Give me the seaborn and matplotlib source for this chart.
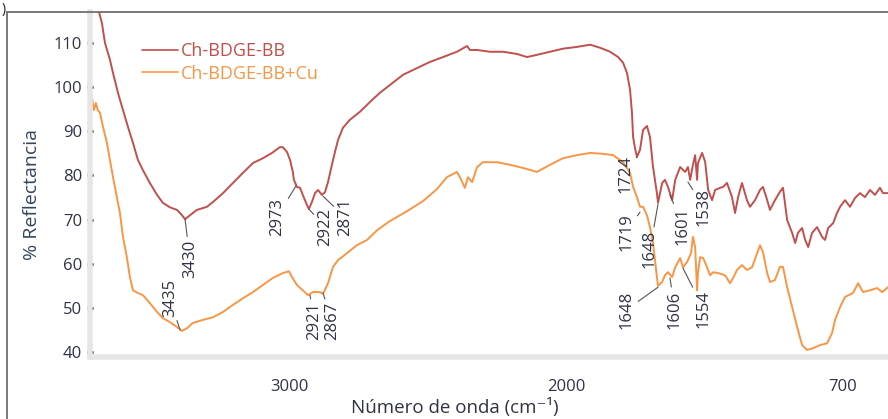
import pandas as pd
import matplotlib.pyplot as plt
import seaborn as sns
from matplotlib.lines import Line2D
from matplotlib.ticker import MultipleLocator

# spectrum Ch-BDGE-BB (wavenumber cm-1, % reflectance)
wn_bb = [3697, 3675, 3664, 3646, 3635, 3617, 3599, 3581, 3563, 3545, 3527, 3502, 3476, 3455,
         3430, 3404, 3386, 3375, 3357, 3332, 3296, 3274, 3238, 3202, 3166, 3130, 3094, 3061,
         3033, 3022, 3007, 2996, 2986, 2982, 2971, 2960, 2950, 2935, 2928, 2917, 2906, 2895,
         2881, 2870, 2859, 2845, 2834, 2823, 2805, 2780, 2744, 2708, 2672, 2635, 2588, 2538,
         2491, 2444, 2394, 2357, 2347, 2321, 2274, 2227, 2177, 2141, 2105, 2058, 2011, 1960,
         1913, 1877, 1841, 1812, 1794, 1780, 1769, 1762, 1758, 1751, 1744, 1733, 1722, 1708,
         1697, 1686, 1672, 1668, 1653, 1643, 1632, 1617, 1606, 1588, 1570, 1560, 1552, 1542,
         1534, 1527, 1524, 1509, 1498, 1487, 1473, 1462, 1444, 1433, 1419, 1401, 1390, 1379,
         1365, 1347, 1336, 1318, 1300, 1289, 1274, 1264, 1246, 1228, 1217, 1202, 1184, 1173,
         1163, 1148, 1137, 1126, 1112, 1094, 1076, 1065, 1054, 1036, 1022, 1011, 993, 975,
         957, 939, 921, 903, 885, 867, 856, 838, 812]
r_bb = [119.7, 114.5, 110.0, 106.2, 103.2, 98.7, 94.8, 91.0, 87.4, 83.5, 81.2, 78.3, 75.6, 73.8,
        72.8, 72.2, 71.0, 70.1, 71.0, 72.2, 72.9, 74.0, 76.0, 78.3, 80.6, 82.8, 83.9, 85.1,
        86.4, 86.4, 85.3, 83.5, 80.8, 79.0, 77.4, 77.2, 75.6, 73.3, 72.4, 74.0, 76.0, 76.7,
        75.6, 76.2, 78.5, 82.4, 85.3, 88.0, 90.8, 92.6, 94.4, 96.6, 98.7, 100.5, 102.8, 104.3,
        105.7, 106.8, 108.0, 109.3, 108.4, 108.4, 108.0, 108.0, 107.5, 106.8, 107.3, 108.0, 108.7, 109.1,
        109.6, 108.9, 108.0, 106.8, 105.5, 103.2, 99.4, 94.2, 88.7, 86.2, 84.2, 85.8, 90.3, 91.2,
        88.7, 81.9, 76.0, 73.8, 78.3, 79.0, 77.4, 74.4, 79.0, 81.9, 80.8, 81.9, 79.0, 82.4,
        84.6, 79.0, 82.8, 85.1, 83.1, 76.7, 74.4, 76.7, 77.2, 77.4, 78.3, 75.1, 71.5, 75.1,
        78.3, 74.4, 72.9, 74.4, 76.7, 77.4, 74.4, 72.2, 74.4, 76.3, 77.2, 69.9, 67.0, 64.7,
        67.0, 68.1, 65.4, 63.8, 67.0, 68.3, 66.1, 65.4, 68.1, 69.2, 71.5, 72.9, 74.4, 72.9,
        74.9, 76.0, 75.1, 76.7, 75.6, 77.2, 76.0, 76.0, 76.7]

# spectrum Ch-BDGE-BB+Cu
wn_cu = [3711, 3704, 3697, 3690, 3682, 3671, 3657, 3646, 3635, 3621, 3610, 3599, 3585, 3574,
         3563, 3545, 3527, 3502, 3476, 3455, 3430, 3404, 3386, 3368, 3347, 3310, 3274, 3238,
         3202, 3166, 3130, 3094, 3058, 3022, 3000, 2989, 2971, 2950, 2931, 2913, 2888, 2877,
         2859, 2841, 2823, 2791, 2755, 2718, 2682, 2635, 2574, 2516, 2466, 2430, 2394, 2383,
         2365, 2354, 2339, 2321, 2300, 2249, 2202, 2155, 2105, 2058, 2011, 1960, 1913, 1867,
         1830, 1794, 1769, 1758, 1744, 1733, 1722, 1708, 1697, 1686, 1679, 1672, 1668, 1653,
         1643, 1632, 1617, 1606, 1588, 1578, 1563, 1549, 1542, 1534, 1527, 1524, 1516, 1505,
         1491, 1480, 1469, 1451, 1426, 1408, 1397, 1383, 1365, 1347, 1329, 1310, 1300, 1289,
         1274, 1264, 1246, 1228, 1217, 1202, 1184, 1166, 1148, 1130, 1108, 1083, 1058, 1040,
         1029, 1011, 993, 964, 946, 928, 903, 877, 859, 838, 812]
r_cu = [97.5, 94.8, 96.4, 94.8, 94.2, 91.0, 87.4, 83.5, 79.6, 75.1, 71.5, 66.1, 61.5, 57.0,
        54.0, 53.4, 52.9, 51.1, 49.1, 47.7, 46.8, 45.7, 44.8, 45.4, 46.6, 47.3, 47.9, 49.1,
        50.7, 52.2, 53.6, 55.2, 56.8, 57.9, 58.3, 57.0, 55.2, 54.0, 52.9, 53.6, 53.6, 53.2,
        55.6, 59.3, 60.8, 62.4, 64.2, 65.4, 67.6, 69.7, 71.9, 74.2, 76.9, 79.6, 80.8, 79.6,
        77.2, 79.6, 78.5, 81.9, 83.0, 83.0, 82.4, 81.7, 80.8, 82.4, 83.9, 84.6, 85.1, 84.9,
        84.6, 83.0, 80.6, 77.4, 75.1, 72.9, 72.9, 71.0, 68.3, 64.7, 60.8, 57.0, 55.0, 55.9,
        57.4, 58.1, 57.0, 59.2, 61.3, 59.2, 60.4, 62.4, 66.1, 63.8, 54.0, 57.9, 61.5, 61.3,
        59.2, 57.4, 58.1, 57.9, 57.4, 55.6, 56.8, 58.6, 59.7, 58.6, 59.2, 62.4, 64.2, 62.6,
        57.9, 55.9, 56.3, 59.3, 59.3, 54.7, 50.2, 45.7, 41.6, 40.5, 40.9, 41.6, 42.0, 44.3,
        47.3, 50.2, 52.5, 53.4, 55.6, 53.6, 54.0, 54.5, 53.6, 54.7, 54.5]

# peak labels: text, point (wn, R), text anchor (wn, R), vertical alignment
peak_text = ['3430', '3435', '2973', '2922', '2871', '2921', '2867',
             '1724', '1719', '1648', '1601', '1538', '1648', '1606', '1554']
peak_xy = [(3375, 70.1), (3393, 45.0), (2975, 77.6), (2928, 72.4), (2877, 75.3), (2924, 52.9),
           (2877, 53.4), (1744, 84.2), (1733, 71.7), (1668, 73.5), (1625, 75.6), (1560, 78.5),
           (1668, 54.7), (1625, 56.8), (1578, 59.0)]
peak_txt = [(3357, 65.4), (3430, 47.9), (3043, 74.9), (2870, 72.6), (2798, 74.9), (2910, 51.3),
            (2845, 51.3), (1787, 84.6), (1783, 71.5), (1697, 67.6), (1578, 72.9), (1502, 77.1),
            (1780, 54.0), (1607, 54.0), (1502, 54.0)]
peak_va = ['top', 'bottom', 'top', 'top', 'top', 'top', 'top',
           'top', 'top', 'top', 'top', 'top', 'top', 'top', 'top']

xtick_pos = [3500, 3000, 2500, 2000, 1500, 1000]
xtick_lab = ['', '3000', '', '2000', '', '700']
ytick_pos = [40, 50, 60, 70, 80, 90, 100, 110]

c_red = '#c0504d'
c_orange = '#f79646'
txt_col = '#2e3244'

df = pd.concat([
    pd.DataFrame({'wn': wn_bb, 'R': r_bb, 'muestra': 'Ch-BDGE-BB'}),
    pd.DataFrame({'wn': wn_cu, 'R': r_cu, 'muestra': 'Ch-BDGE-BB+Cu'}),
])

sns.set_theme(style='white')
plt.rcParams['font.family'] = ['Open Sans', 'DejaVu Sans']

fig = plt.figure(figsize=(8.88, 4.19), dpi=100)
ax = fig.add_axes([90 / 888, 62 / 419, 798 / 888, 345 / 419])

sns.lineplot(data=df, x='wn', y='R', hue='muestra', palette=[c_red, c_orange],
             estimator=None, sort=False, lw=1.4, ax=ax)

ax.set_xlim(3718, 838)
ax.set_ylim(38.9, 117)

ax.set_xticks(xtick_pos)
ax.set_xticklabels(xtick_lab)
ax.set_yticks(ytick_pos)
ax.yaxis.set_minor_locator(MultipleLocator(2))
ax.tick_params(axis='both', which='major', labelsize=12, labelcolor=txt_col, color='black',
               direction='inout', length=4, width=1.8, left=True, bottom=True)
ax.tick_params(axis='y', which='minor', direction='inout', length=1.6, width=1.4,
               color='black', left=True)
ax.tick_params(axis='x', which='major', length=3, width=1.4, pad=14)

for s in ['top', 'right']:
    ax.spines[s].set_visible(False)
for s in ['left', 'bottom']:
    ax.spines[s].set_color('#e6e6e6')
    ax.spines[s].set_linewidth(4)

ax.set_xlabel('Número de onda (cm⁻¹)', fontsize=13.5, color=txt_col, va='top')
ax.set_ylabel('% Reflectancia', fontsize=14, color='#34465a')
ax.xaxis.set_label_coords(0.457, -0.118)
ax.yaxis.set_label_coords(-0.062, 0.47)

# peak annotations
for t, xy, xt, va in zip(peak_text, peak_xy, peak_txt, peak_va):
    ax.annotate(t, xy=xy, xytext=xt, rotation=90, ha='center', va=va, fontsize=12,
                color=txt_col,
                arrowprops=dict(arrowstyle='-', color='#555555', lw=0.8,
                                shrinkA=0, shrinkB=0))

leg = ax.legend(loc='upper left', bbox_to_anchor=(142 / 888, 1 - 42 / 419),
                bbox_transform=fig.transFigure, frameon=False, fontsize=13,
                handlelength=2.0, handletextpad=0.15, labelspacing=0.25,
                borderpad=0, borderaxespad=0, labelcolor='linecolor')
for h in leg.get_lines():
    h.set_linewidth(1.2)

# frame around the figure (cropped)
fig.add_artist(Line2D([7 / 888, 7 / 888], [0, 1 - 12 / 419], transform=fig.transFigure,
                      color='#707070', lw=1.3))
fig.add_artist(Line2D([7 / 888, 1], [1 - 12 / 419, 1 - 12 / 419], transform=fig.transFigure,
                      color='#707070', lw=1.3))
fig.text(0.002, 0.996, ')', fontsize=10, color='#222222', ha='left', va='top')

fig.savefig('out.png', dpi=100)
